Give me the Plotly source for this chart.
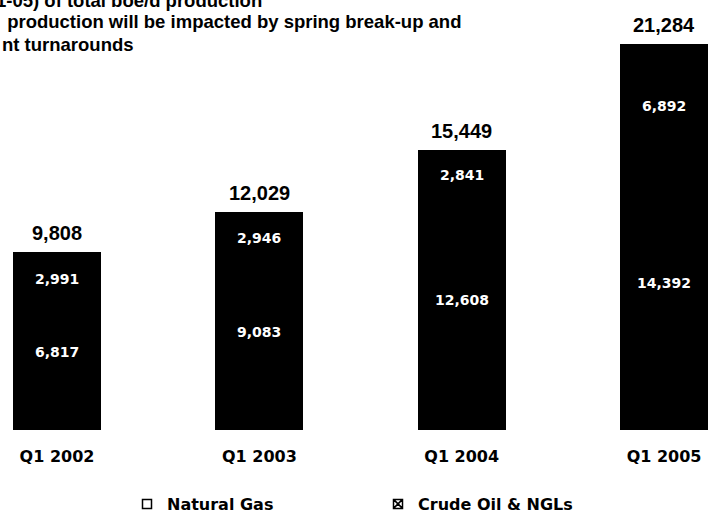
"""
Quarterly boe/d production, stacked by product (Q1 2002 - Q1 2005).
"""

import plotly.graph_objects as go

quarters = ["Q1 2002", "Q1 2003", "Q1 2004", "Q1 2005"]
natural_gas = [6817, 9083, 12608, 14392]
crude_oil_ngls = [2991, 2946, 2841, 6892]
totals = [9808, 12029, 15449, 21284]

header_lines = [
    "1-05) of total boe/d production",
    " production will be impacted by spring break-up and",
    "nt turnarounds",
]

ARIAL = "Liberation Sans, Arial, sans-serif"
WIDE = "DejaVu Sans, Liberation Sans, sans-serif"

fig = go.Figure()

# both segments print as solid black in the source
fig.add_trace(go.Bar(
    x=quarters, y=natural_gas, name="Natural Gas",
    marker=dict(color="#000000", line=dict(width=0)),
    width=0.435, showlegend=False, hoverinfo="y",
))
fig.add_trace(go.Bar(
    x=quarters, y=crude_oil_ngls, name="Crude Oil & NGLs",
    marker=dict(color="#000000", line=dict(width=0)),
    width=0.435, showlegend=False, hoverinfo="y",
))

# legend swatches (the scan shows light squares, not the black bar fill)
fig.add_trace(go.Scatter(
    x=[None], y=[None], mode="markers", name="Natural Gas",
    marker=dict(symbol="square-open", size=9, color="#000000", line=dict(width=1.5)),
))
fig.add_trace(go.Scatter(
    x=[None], y=[None], mode="markers", name="Crude Oil & NGLs",
    marker=dict(symbol="square-x-open", size=9, color="#000000", line=dict(width=1.5)),
))

annotations = []
for q, gas, oil, tot in zip(quarters, natural_gas, crude_oil_ngls, totals):
    # total above the bar
    annotations.append(dict(
        x=q, y=tot, text=f"{tot:,}", showarrow=False, yanchor="bottom", yshift=6,
        font=dict(family=ARIAL, size=20, color="#000000", weight="bold"),
    ))
    # segment labels
    annotations.append(dict(
        x=q, y=gas + oil / 2, text=f"{oil:,}", showarrow=False,
        font=dict(family=WIDE, size=14, color="#ffffff", weight="bold"),
    ))
    annotations.append(dict(
        x=q, y=gas / 2, text=f"{gas:,}", showarrow=False, yshift=16,
        font=dict(family=WIDE, size=14, color="#ffffff", weight="bold"),
    ))

# header text, cropped at the top-left in the source
header_rows_px = [0, 22, 44]
for i, (line, row) in enumerate(zip(header_lines, header_rows_px)):
    annotations.append(dict(
        xref="paper", yref="paper", x=0, y=1 - row / 430,
        xanchor="left", yanchor="middle", xshift=-6 if i == 0 else 0,
        text=line, showarrow=False, align="left",
        font=dict(family=ARIAL, size=18.5, color="#000000", weight="bold"),
    ))

fig.update_layout(
    barmode="stack",
    width=710,
    height=518,
    margin=dict(l=0, r=0, t=0, b=88, autoexpand=False),
    paper_bgcolor="white",
    plot_bgcolor="white",
    font=dict(family=ARIAL, color="#000000"),
    xaxis=dict(
        type="category",
        range=[-0.2817, 3.227],
        showgrid=False, zeroline=False, showline=False, ticks="",
        ticklabelstandoff=15,
        tickfont=dict(family=WIDE, size=16, color="#000000", weight="bold"),
    ),
    yaxis=dict(
        range=[0, 23691],
        visible=False,
    ),
    legend=dict(
        orientation="h",
        traceorder="normal",
        x=127 / 710, y=-74 / 430,
        xanchor="left", yanchor="middle",
        entrywidth=206,
        font=dict(family=WIDE, size=16, color="#000000", weight="bold"),
        bgcolor="rgba(0,0,0,0)",
    ),
    annotations=annotations,
    showlegend=True,
)

# drop the page's default body margin so the figure sits at the window's corner
fig.write_html(
    "out.html",
    config={"displayModeBar": False},
    post_script="document.body.style.margin = '0';",
)
